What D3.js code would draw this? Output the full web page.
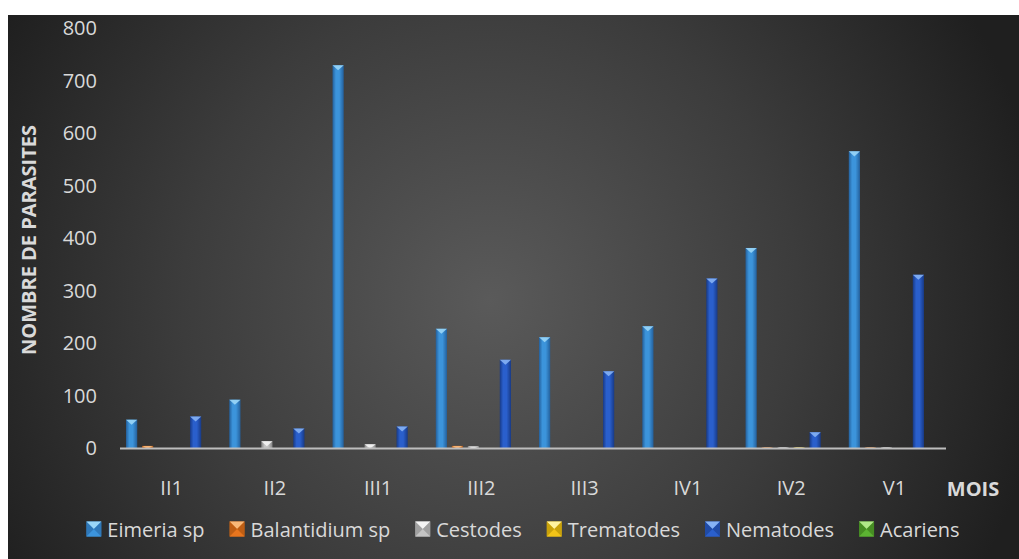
<!DOCTYPE html>
<html>
<head>
<meta charset="utf-8">
<script src="https://cdn.jsdelivr.net/npm/d3@7/dist/d3.min.js"></script>
<style>
  html, body { margin: 0; padding: 0; background: #ffffff; }
  svg { display: block; }
  text { font-family: "Open Sans", "Liberation Sans", sans-serif; }
</style>
</head>
<body>
<svg id="chart" width="1019" height="559"></svg>
<script>
// Months (sampling periods)
const categories = ["II1", "II2", "III1", "III2", "III3", "IV1", "IV2", "V1"];

// Parasite groups
const seriesNames = ["Eimeria sp", "Balantidium sp", "Cestodes", "Trematodes", "Nematodes", "Acariens"];

// Parasite counts per month
const eimeria     = [55, 93, 730, 228, 212, 233, 382, 566];
const balantidium = [5, 0, 0, 5, 0, 0, 2, 2];
const cestodes    = [0, 14, 8, 4, 0, 0, 2, 2];
const trematodes  = [0, 0, 0, 1, 0, 0, 2, 1];
const nematodes   = [61, 38, 42, 169, 147, 324, 31, 331];
const acariens    = [0, 0, 0, 0, 0, 0, 0, 0];

const yTicks = [0, 100, 200, 300, 400, 500, 600, 700, 800];

const seriesValues = [eimeria, balantidium, cestodes, trematodes, nematodes, acariens];

// base / dark edge / light bevel colours for each group
const palette = [
  { base: "#3c94db", dark: "#24609c", light: "#9ad6f7" },
  { base: "#e8761e", dark: "#9c4a0c", light: "#f9b878" },
  { base: "#c4c4c4", dark: "#848484", light: "#f4f4f4" },
  { base: "#f2c418", dark: "#a88600", light: "#fff3a0" },
  { base: "#2a5fcc", dark: "#183a86", light: "#86b2f4" },
  { base: "#5cb232", dark: "#347018", light: "#b0e888" }
];

const svg = d3.select("#chart");
const W = 1019, H = 559;

// ---- background panel with radial shading ----
const defs = svg.append("defs");
const bg = defs.append("radialGradient")
  .attr("id", "bgGrad")
  .attr("gradientUnits", "userSpaceOnUse")
  .attr("cx", 490).attr("cy", 300).attr("r", 560);
bg.append("stop").attr("offset", 0).attr("stop-color", "#5a5a5a");
bg.append("stop").attr("offset", 0.55).attr("stop-color", "#3c3c3c");
bg.append("stop").attr("offset", 1).attr("stop-color", "#1f1f1f");

svg.append("rect")
  .attr("x", 8).attr("y", 15)
  .attr("width", W - 8).attr("height", H - 15)
  .attr("fill", "url(#bgGrad)");

// bar gradients (darker edges, lighter middle)
palette.forEach((c, i) => {
  const g = defs.append("linearGradient")
    .attr("id", "barGrad" + i)
    .attr("x1", 0).attr("x2", 1).attr("y1", 0).attr("y2", 0);
  g.append("stop").attr("offset", 0).attr("stop-color", c.dark);
  g.append("stop").attr("offset", 0.3).attr("stop-color", c.base);
  g.append("stop").attr("offset", 0.6).attr("stop-color", c.base);
  g.append("stop").attr("offset", 1).attr("stop-color", c.dark);
});

// ---- scales ----
const plotLeft = 120, plotRight = 946;
const y0 = 448.5, yTop = 28.5;

const x0 = d3.scaleBand()
  .domain(categories)
  .range([plotLeft, plotRight])
  .paddingInner(0).paddingOuter(0);

const groupWidth = 96;
const x1 = d3.scaleBand()
  .domain(seriesNames)
  .range([0, groupWidth]);

const y = d3.scaleLinear().domain([0, 800]).range([y0, yTop]);

const barW = x1.bandwidth() * 0.7;

// ---- bars ----
const barsG = svg.append("g");
seriesNames.forEach((name, si) => {
  const vals = seriesValues[si];
  const c = palette[si];
  const g = barsG.append("g").attr("class", "series");
  categories.forEach((cat, ci) => {
    const v = vals[ci];
    if (!v) return;
    const cx = x0(cat) + x0.bandwidth() / 2 - groupWidth / 2 + x1(name) + x1.bandwidth() / 2;
    const top = y(v);
    const h = y0 - top;
    g.append("rect")
      .attr("x", cx - barW / 2)
      .attr("y", top)
      .attr("width", barW)
      .attr("height", h)
      .attr("fill", "url(#barGrad" + si + ")");
    // bevelled top facet
    const th = Math.min(barW * 0.45, h);
    g.append("path")
      .attr("d", `M${cx - barW / 2},${top} L${cx + barW / 2},${top} L${cx},${top + th} Z`)
      .attr("fill", c.light)
      .attr("opacity", 0.9);
  });
});

// ---- x axis line ----
svg.append("line")
  .attr("x1", plotLeft).attr("x2", plotRight)
  .attr("y1", y0).attr("y2", y0)
  .attr("stroke", "#bdbdbd")
  .attr("stroke-width", 2);

// ---- y tick labels ----
const yAxis = d3.axisLeft(y).tickValues(yTicks).tickSize(0).tickPadding(0);
const yAxisG = svg.append("g")
  .attr("transform", "translate(97,0)")
  .call(yAxis);
yAxisG.select(".domain").remove();
yAxisG.selectAll("text")
  .attr("fill", "#d9d9d9")
  .style("font-size", "20px")
  .style("font-family", "'Open Sans', sans-serif");

// ---- x tick labels ----
const xAxis = d3.axisBottom(x0).tickSize(0).tickPadding(0);
const xAxisG = svg.append("g")
  .attr("transform", "translate(0,481)")
  .call(xAxis);
xAxisG.select(".domain").remove();
xAxisG.selectAll("text")
  .attr("fill", "#d9d9d9")
  .attr("dy", "0.71em")
  .style("font-size", "20px")
  .style("font-family", "'Open Sans', sans-serif");

// ---- axis titles ----
svg.append("text")
  .attr("x", 973).attr("y", 488)
  .attr("text-anchor", "middle")
  .attr("dominant-baseline", "central")
  .attr("fill", "#d9d9d9")
  .style("font-size", "20px")
  .style("font-weight", "bold")
  .text("MOIS");

svg.append("text")
  .attr("transform", "translate(28,240) rotate(-90)")
  .attr("text-anchor", "middle")
  .attr("dominant-baseline", "central")
  .attr("fill", "#d9d9d9")
  .style("font-size", "20px")
  .style("font-weight", "bold")
  .text("NOMBRE DE PARASITES");

// ---- legend ----
const legendG = svg.append("g");
const markerSize = 15, markerGap = 6, itemGap = 25;
let cursor = 0;
seriesNames.forEach((name, i) => {
  const item = legendG.append("g");
  const c = palette[i];
  const s = markerSize;
  item.append("rect").attr("x", 0).attr("y", -s / 2).attr("width", s).attr("height", s).attr("fill", c.base);
  // bevelled marker facets
  item.append("path").attr("d", `M0,${-s / 2} L${s},${-s / 2} L${s / 2},0 Z`).attr("fill", c.light);
  item.append("path").attr("d", `M0,${s / 2} L${s},${s / 2} L${s / 2},0 Z`).attr("fill", c.base).attr("opacity", 0.9);
  item.append("path").attr("d", `M0,${-s / 2} L0,${s / 2} L${s / 2},0 Z`).attr("fill", c.dark).attr("opacity", 0.55);
  item.append("path").attr("d", `M${s},${-s / 2} L${s},${s / 2} L${s / 2},0 Z`).attr("fill", c.dark).attr("opacity", 0.55);
  const t = item.append("text")
    .attr("x", s + markerGap)
    .attr("y", 0)
    .attr("dominant-baseline", "central")
    .attr("fill", "#d9d9d9")
    .style("font-size", "20px")
    .text(name);
  const tw = t.node().getComputedTextLength();
  item.attr("transform", `translate(${cursor},0)`);
  cursor += s + markerGap + tw + itemGap;
});
const legendWidth = cursor - itemGap;
legendG.attr("transform", `translate(${523 - legendWidth / 2},529)`);
</script>
</body>
</html>
